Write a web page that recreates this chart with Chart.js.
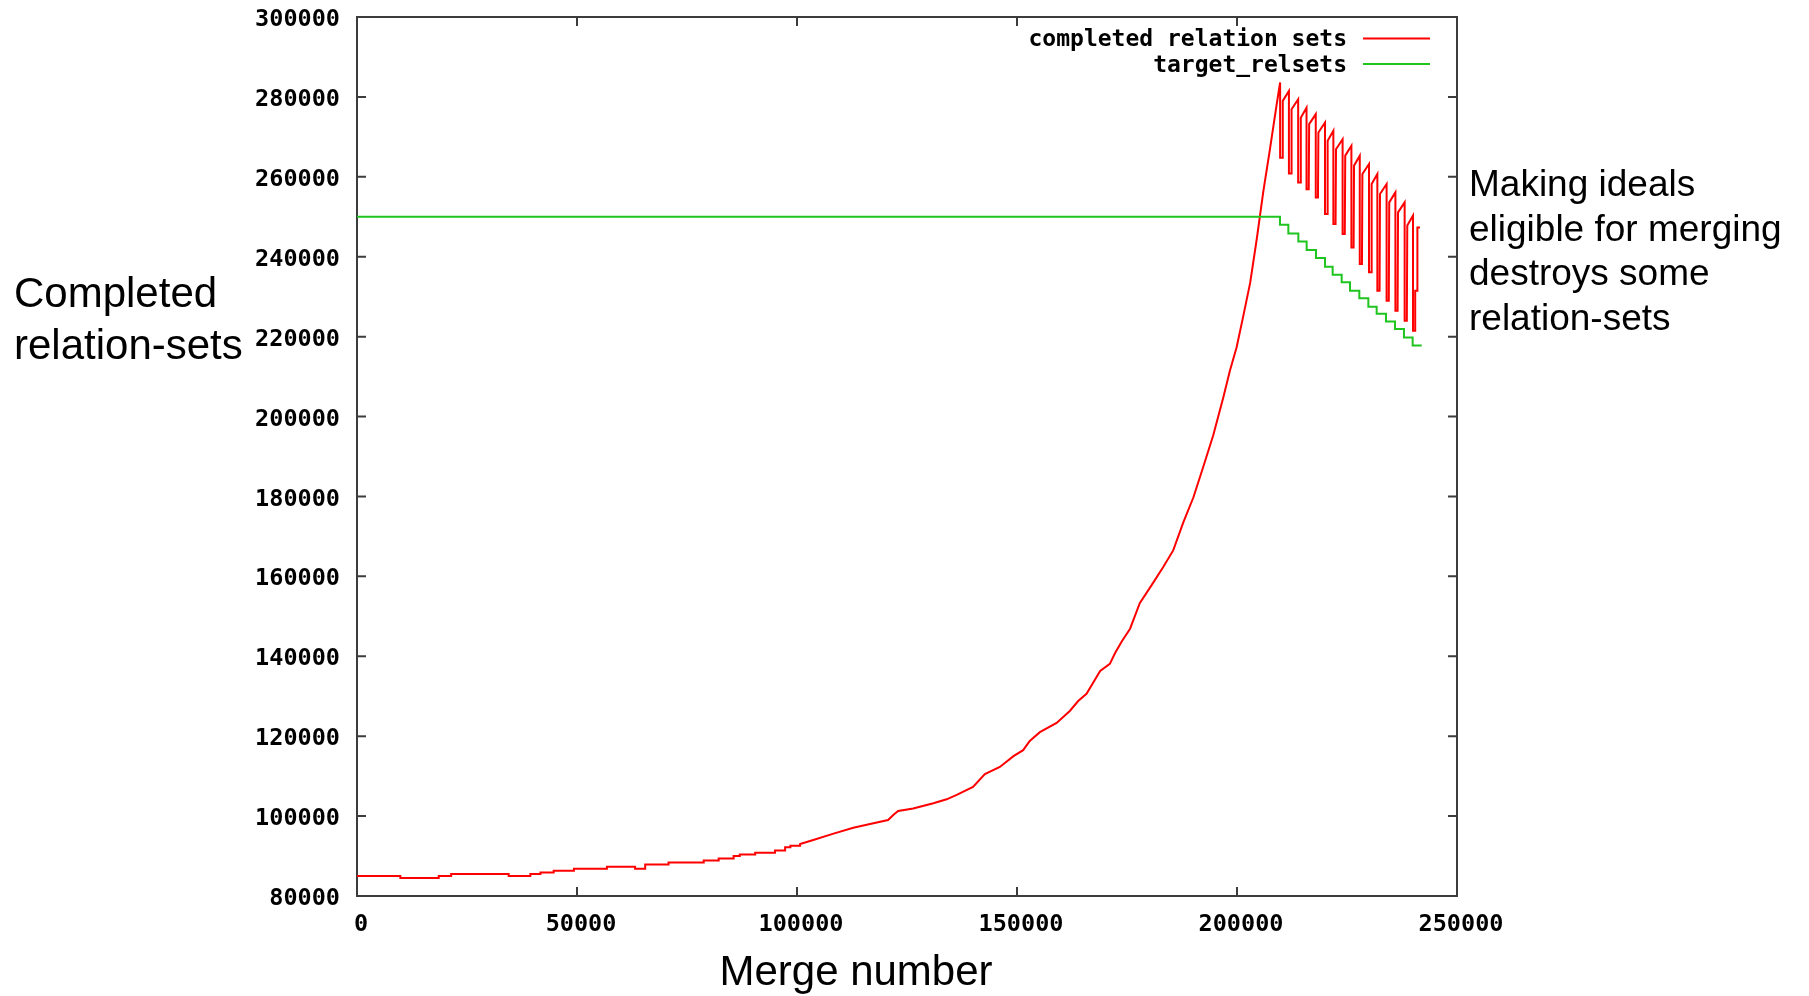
<!DOCTYPE html>
<html>
<head>
<meta charset="utf-8">
<title>Completed relation-sets</title>
<script src="https://cdn.jsdelivr.net/npm/chart.js@4.4.1/dist/chart.umd.min.js"></script>
<style>
  body { margin: 0; background: #fff; }
  canvas { display: block; }
</style>
</head>
<body>
<canvas id="mergeChart" width="1809" height="996"></canvas>
<script>
// merge number / completed relation sets
// (repeated x = vertical step)
const redMerge = [
  0, 9850, 9850, 18570, 18570, 21400, 21400, 34470, 34470, 39400,
  39400, 41700, 41700, 44700, 44700, 49300, 49300, 56800, 56800, 63200,
  63200, 65500, 65500, 70800, 70800, 78800, 78800, 82200, 82200, 85600,
  85600, 87000, 87000, 90500, 90500, 95000, 95000, 97300, 97300, 98500,
  98500, 100700, 100700,
  103700, 108300, 112800, 116600, 120700, 122000, 123000, 126400, 131000, 134000,
  136300, 140000, 142700, 146100, 149200, 151400, 152900, 155200, 159000, 162000,
  163900, 165800, 167300, 168900, 171100, 172300, 173800, 175700, 177900, 181000,
  183200, 185500, 187800, 190100, 192300, 194600, 196900, 198400, 199900, 201400,
  203000, 204500, 206000, 207500, 209000,
  209800, 209800, 210300, 210400,
  211800, 211800, 212300, 212400,
  213900, 213900, 214400, 214500,
  215800, 215800, 216300, 216400,
  217900, 217900, 218400, 218500,
  220000, 220000, 220500, 220600,
  221900, 221900, 222400, 222500,
  224000, 224000, 224500, 224600,
  226000, 226000, 226500, 226600,
  227900, 227900, 228400, 228500,
  230000, 230000, 230500, 230600,
  231900, 231900, 232400, 232500,
  234000, 234000, 234500, 234600,
  236000, 236000, 236500, 236600,
  238100, 238100, 238600, 238700,
  240000, 240000, 240500, 240500, 241000, 241000, 241600
];
const redCompleted = [
  85000, 85000, 84500, 84500, 85000, 85000, 85500, 85500, 85000, 85000,
  85500, 85500, 85900, 85900, 86300, 86300, 86800, 86800, 87300, 87300,
  86800, 86800, 87900, 87900, 88400, 88400, 88900, 88900, 89400, 89400,
  90000, 90000, 90400, 90400, 90800, 90800, 91400, 91400, 92200, 92200,
  92600, 92600, 93000,
  94000, 95600, 97100, 98000, 99000, 100400, 101300, 101900, 103200, 104200,
  105300, 107300, 110500, 112300, 115000, 116500, 118800, 121000, 123300, 126300,
  128800, 130600, 133400, 136300, 138100, 140800, 143700, 146900, 153300, 158500,
  162300, 166500, 173500, 179800, 187300, 195300, 204800, 211500, 217300, 225000,
  233500, 244500, 256500, 267000, 278000,
  283600, 264800, 264800, 279000,
  281500, 260800, 260800, 276900,
  279400, 258600, 258600, 274800,
  277300, 256900, 256900, 273200,
  275700, 254800, 254800, 271100,
  273600, 250700, 250700, 269000,
  271500, 248200, 248200, 266900,
  269400, 245700, 245700, 265300,
  267800, 242300, 242300, 262800,
  265300, 238200, 238200, 260700,
  263200, 236100, 236100, 258200,
  260700, 231500, 231500, 255700,
  258200, 229000, 229000, 253600,
  256100, 226500, 226500, 251100,
  253600, 224000, 224000, 247800,
  250300, 221500, 221500, 231500, 231500, 247300, 247300
];

// target_relsets steps
const greenMerge = [
  0, 209770, 211670, 213940, 215830, 217950, 220000, 221740, 223790, 225680,
  227800, 229850, 231740, 233860, 235910, 237950, 239920, 241970
];
const greenTarget = [
  250000, 248000, 245800, 243800, 241700, 239700, 237500, 235500, 233600, 231500,
  229600, 227500, 225700, 223800, 221900, 219800, 217800, 217800
];

const seriesLabels = ['completed relation sets', 'target_relsets'];
const yTitleLines = ['Completed', 'relation-sets'];
const xTitle = 'Merge number';
const noteLines = ['Making ideals', 'eligible for merging', 'destroys some', 'relation-sets'];

const tickFont = { family: '"DejaVu Sans Mono", monospace', size: 23.5, weight: 'bold' };

// box, inward ticks, legend and the slide texts
const gnuplotFrame = {
  id: 'gnuplotFrame',
  beforeDatasetsDraw(chart) {
    const { ctx, chartArea: a, scales: { x, y } } = chart;
    ctx.save();
    ctx.strokeStyle = '#3c3c3c';
    ctx.lineWidth = 2;
    ctx.strokeRect(a.left, a.top, a.right - a.left, a.bottom - a.top);
    ctx.beginPath();
    x.ticks.forEach(t => {
      const px = x.getPixelForValue(t.value);
      if (px <= a.left + 1 || px >= a.right - 1) return;
      ctx.moveTo(px, a.bottom); ctx.lineTo(px, a.bottom - 9);
      ctx.moveTo(px, a.top); ctx.lineTo(px, a.top + 9);
    });
    y.ticks.forEach(t => {
      const py = y.getPixelForValue(t.value);
      if (py <= a.top + 1 || py >= a.bottom - 1) return;
      ctx.moveTo(a.left, py); ctx.lineTo(a.left + 9, py);
      ctx.moveTo(a.right, py); ctx.lineTo(a.right - 9, py);
    });
    ctx.stroke();
    ctx.restore();
  },
  afterDraw(chart) {
    const { ctx, chartArea: a } = chart;
    ctx.save();
    // legend, gnuplot style: text on the left, sample on the right
    ctx.font = 'bold 23px "DejaVu Sans Mono", monospace';
    ctx.textAlign = 'right';
    ctx.textBaseline = 'middle';
    ctx.lineWidth = 2;
    chart.data.datasets.forEach((ds, i) => {
      const yy = a.top + 21.5 + i * 25.5;
      ctx.fillStyle = '#000';
      ctx.fillText(ds.label, a.right - 110, yy + 2);
      ctx.strokeStyle = ds.borderColor;
      ctx.beginPath();
      ctx.moveTo(a.right - 94, yy);
      ctx.lineTo(a.right - 27, yy);
      ctx.stroke();
    });

    ctx.fillStyle = '#000';
    ctx.textAlign = 'left';
    ctx.font = '42px "Liberation Sans", Arial, sans-serif';
    yTitleLines.forEach((s, i) => ctx.fillText(s, 14, 295 + i * 52));
    ctx.textAlign = 'center';
    ctx.fillText(xTitle, 856, 973);
    ctx.textAlign = 'left';
    ctx.font = '37px "Liberation Sans", Arial, sans-serif';
    noteLines.forEach((s, i) => ctx.fillText(s, a.right + 12, 186 + i * 44.5));
    ctx.restore();
  }
};

const ctx = document.getElementById('mergeChart').getContext('2d');
new Chart(ctx, {
  type: 'line',
  data: {
    datasets: [
      {
        label: seriesLabels[0],
        data: redMerge.map((m, i) => ({ x: m, y: redCompleted[i] })),
        borderColor: '#ff0000',
        borderWidth: 2,
        pointRadius: 0,
        fill: false,
        order: 1
      },
      {
        label: seriesLabels[1],
        data: greenMerge.map((m, i) => ({ x: m, y: greenTarget[i] })),
        borderColor: '#1fc41f',
        borderWidth: 2,
        pointRadius: 0,
        stepped: true,
        fill: false,
        order: 0
      }
    ]
  },
  options: {
    responsive: false,
    devicePixelRatio: 1,
    animation: false,
    layout: { padding: { left: 0, top: 17, right: 352, bottom: 0 } },
    plugins: {
      legend: { display: false },
      tooltip: { enabled: false }
    },
    scales: {
      x: {
        type: 'linear',
        min: 0,
        max: 250000,
        grid: { display: false, drawTicks: false },
        border: { display: false },
        ticks: {
          stepSize: 50000,
          color: '#000',
          font: tickFont,
          padding: 15,
          labelOffset: 4,
          maxRotation: 0,
          callback: v => String(v)
        },
        afterFit: s => { s.height = 100; }
      },
      y: {
        min: 80000,
        max: 300000,
        grid: { display: false, drawTicks: false },
        border: { display: false },
        ticks: {
          stepSize: 20000,
          color: '#000',
          font: tickFont,
          padding: 17,
          labelOffset: 3,
          callback: v => String(v)
        },
        afterFit: s => { s.width = 357; s.paddingTop = 0; s.paddingBottom = 0; }
      }
    }
  },
  plugins: [gnuplotFrame]
});
</script>
</body>
</html>
